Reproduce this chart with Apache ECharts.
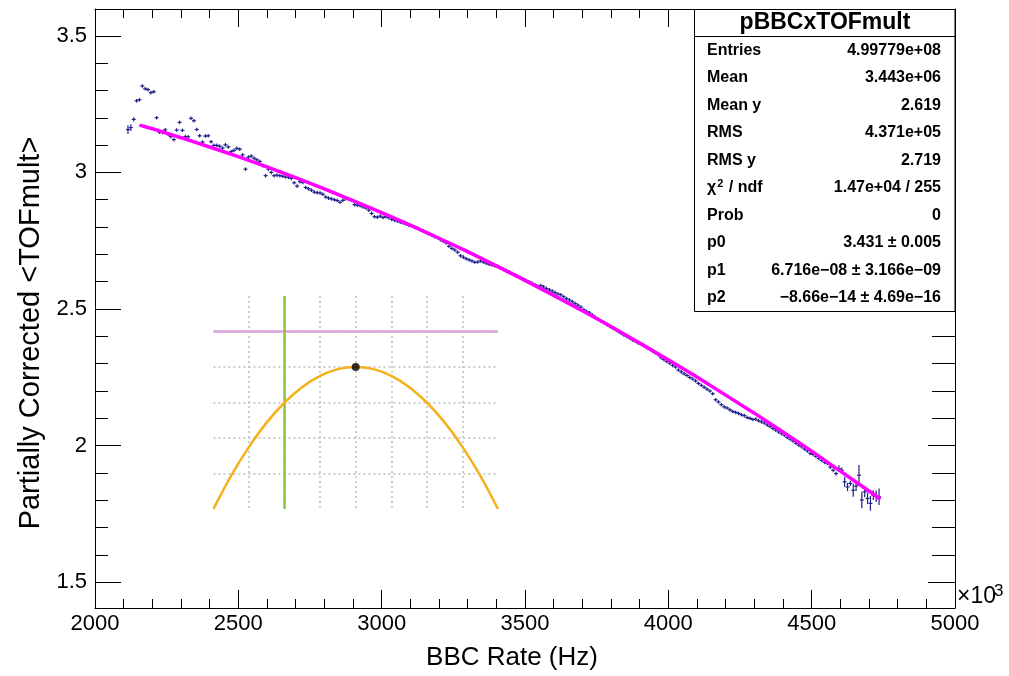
<!DOCTYPE html>
<html><head><meta charset="utf-8">
<script src="https://cdn.jsdelivr.net/npm/echarts@6/dist/echarts.min.js"></script>
<style>html,body{margin:0;padding:0;background:#fff}#c{width:1009px;height:676px}</style>
</head><body><div id="c"></div>
<script>
// ---------------- data ----------------
const BIN_START = 2115;   // first bin centre (BBC rate, x10^3 Hz)
const BIN_WIDTH = 10;
const profileY = [
 3.157,3.164,3.194,3.262,3.266,3.316,3.306,3.303,3.292,
 3.295,3.200,3.147,3.146,3.156,3.139,3.131,3.120,3.155,3.183,
 3.154,3.131,3.130,3.198,3.189,3.157,3.134,3.111,3.133,3.134,
 3.112,3.099,3.099,3.096,3.089,3.101,3.093,3.076,3.081,3.088,
 3.085,3.064,3.012,3.056,3.060,3.052,3.046,3.040,3.025,2.988,
 3.012,3.000,2.988,2.990,2.988,2.986,2.983,2.982,2.978,2.962,
 2.950,2.966,2.963,2.945,2.940,2.935,2.928,2.926,2.925,2.920,
 2.910,2.906,2.903,2.900,2.897,2.891,2.898,2.904,2.902,2.898,
 2.882,2.880,2.878,2.874,2.870,2.862,2.850,2.838,2.836,2.840,
 2.835,2.838,2.834,2.828,2.825,2.822,2.818,2.815,2.811,2.806,
 2.804,2.799,2.796,2.790,2.786,2.780,2.776,2.771,2.765,2.761,
 2.754,2.748,2.742,2.730,2.722,2.716,2.708,2.695,2.690,2.684,
 2.680,2.676,2.671,2.672,2.676,2.672,2.668,2.664,2.661,2.658,
 2.656,2.650,2.645,2.641,2.636,2.630,2.625,2.620,2.615,2.609,
 2.604,2.599,2.594,2.589,2.583,2.586,2.581,2.575,2.570,2.566,
 2.560,2.555,2.552,2.545,2.538,2.533,2.527,2.520,2.514,2.507,
 2.498,2.491,2.486,2.478,2.470,2.463,2.456,2.451,2.444,2.437,
 2.431,2.425,2.418,2.412,2.405,2.400,2.394,2.387,2.382,2.376,
 2.372,2.366,2.359,2.353,2.346,2.340,2.333,2.322,2.315,2.308,
 2.302,2.294,2.288,2.277,2.270,2.263,2.257,2.250,2.244,2.237,
 2.228,2.221,2.214,2.207,2.200,2.190,2.168,2.160,2.150,2.142,
 2.138,2.131,2.125,2.122,2.118,2.113,2.110,2.103,2.100,2.096,
 2.097,2.091,2.087,2.083,2.076,2.070,2.063,2.057,2.050,2.044,
 2.038,2.030,2.024,2.017,2.009,2.002,1.996,1.988,1.981,1.972,
 1.968,1.961,1.953,1.946,1.939,1.935,1.922,1.910,1.898,1.916,
 1.910,1.868,1.849,1.862,1.837,1.852,1.892,1.801,1.831,1.807,
 1.789,1.819,1.815,1.813
];
const profileErr = [
 0.016,0.012,0.008,0.006,0.006,0.006,0.006,0.006,0.006,
 0.005,0.005,0.005,0.005,0.005,0.005,0.005,0.005,0.005,0.005,
 0.004,0.004,0.004,0.004,0.004,0.004,0.004,0.004,0.004,0.004,
 0.004,0.004,0.004,0.004,0.004,0.004,0.004,0.004,0.004,0.004,
 0.004,0.004,0.004,0.004,0.004,0.004,0.004,0.004,0.004,0.004,
 0.003,0.003,0.003,0.003,0.003,0.003,0.003,0.003,0.003,0.003,
 0.003,0.003,0.003,0.003,0.003,0.003,0.003,0.003,0.003,0.003,
 0.003,0.003,0.003,0.003,0.003,0.003,0.003,0.003,0.003,0.003,
 0.003,0.003,0.003,0.003,0.003,0.003,0.003,0.003,0.003,0.003,
 0.003,0.003,0.003,0.003,0.003,0.003,0.003,0.003,0.003,0.003,
 0.003,0.003,0.003,0.003,0.003,0.003,0.003,0.003,0.003,0.003,
 0.003,0.003,0.003,0.003,0.003,0.003,0.003,0.003,0.003,0.003,
 0.003,0.003,0.003,0.003,0.003,0.003,0.003,0.003,0.003,0.003,
 0.003,0.003,0.003,0.003,0.003,0.003,0.003,0.003,0.003,0.003,
 0.003,0.003,0.003,0.003,0.003,0.003,0.003,0.003,0.003,0.003,
 0.003,0.003,0.003,0.003,0.003,0.003,0.003,0.003,0.003,0.003,
 0.003,0.003,0.003,0.003,0.003,0.003,0.003,0.003,0.003,0.003,
 0.003,0.003,0.003,0.003,0.003,0.003,0.003,0.003,0.003,0.003,
 0.003,0.003,0.003,0.003,0.003,0.003,0.003,0.003,0.003,0.003,
 0.003,0.003,0.003,0.003,0.003,0.003,0.003,0.003,0.003,0.003,
 0.003,0.003,0.003,0.003,0.003,0.003,0.003,0.003,0.003,0.003,
 0.003,0.003,0.003,0.003,0.003,0.003,0.003,0.003,0.003,0.003,
 0.003,0.003,0.003,0.003,0.003,0.003,0.003,0.003,0.003,0.003,
 0.004,0.004,0.004,0.004,0.004,0.004,0.004,0.004,0.004,0.004,
 0.005,0.005,0.005,0.005,0.005,0.005,0.007,0.007,0.007,0.012,
 0.010,0.018,0.015,0.010,0.024,0.018,0.037,0.030,0.020,0.021,
 0.027,0.018,0.021,0.030
];
// pol2 fit curve
const fitX = [2155,2200,2300,2400,2500,2600,2700,2800,2900,3000,3100,3200,3300,3400,
              3500,3600,3700,3800,3900,4000,4100,4200,4300,4400,4500,4600,4700,4740];
const fitY = [3.173,3.160,3.127,3.093,3.058,3.020,2.981,2.940,2.897,2.853,2.807,2.759,2.710,2.658,
              2.605,2.550,2.494,2.436,2.376,2.314,2.251,2.185,2.119,2.050,1.980,1.907,1.834,1.804];
// axis ticks
const xMajorInterval = 500;
const yMajorTicks = [1.5, 2, 2.5, 3, 3.5];
const yMinorTicks = [1.5,1.6,1.7,1.8,1.9,2.0,2.1,2.2,2.3,2.4,2.5,2.6,2.7,2.8,2.9,3.0,3.1,3.2,3.3,3.4,3.5];
// stats box
const statsTitle = 'pBBCxTOFmult';
const statsNames = ['Entries','Mean','Mean y','RMS','RMS y','{n|\u03c7}{s|2}{n| / ndf}','Prob','p0','p1','p2'];
const statsValues = ['4.99779e+08','3.443e+06','2.619','4.371e+05','2.719','1.47e+04 / 255','0',
  '3.431 \u00b1 0.005','6.716e\u221208 \u00b1 3.166e\u221209','\u22128.66e\u221214 \u00b1 4.69e\u221216'];
// inset (parabola sketch)
const insetCurveX = [-4,-3.5,-3,-2.5,-2,-1.5,-1,-0.5,0,0.5,1,1.5,2,2.5,3,3.5,4];
const insetCurveY = [0,0.94,1.75,2.44,3,3.44,3.75,3.94,4,3.94,3.75,3.44,3,2.44,1.75,0.94,0];
const insetVertex = [0, 4];
const insetGreenX = -2;
const insetPinkY = 5;

// ---------------- chart ----------------
const F = "'Liberation Sans', Arial, Helvetica, sans-serif";
const PT = '#20208a';
const chart = echarts.init(document.getElementById('c'), null, {renderer: 'canvas'});
const profileData = profileY.map((y, i) => [BIN_START + i * BIN_WIDTH, y, profileErr[i]]);
const fitData = fitX.map((x, i) => [x, fitY[i]]);
const curveData = insetCurveX.map((x, i) => [x, insetCurveY[i]]);

const baseX = {
  gridIndex: 0, type: 'value', min: 2000, max: 5000, interval: xMajorInterval,
  axisLine: {show: true, onZero: false, lineStyle: {color: '#000', width: 1}},
  axisTick: {show: true, inside: true, length: 18, lineStyle: {color: '#000', width: 1}},
  minorTick: {show: true, splitNumber: 5, length: 9, lineStyle: {color: '#000', width: 1}},
  splitLine: {show: false}
};
function yAx(grid, pos, ticks, len, labels, line) {
  return {
    gridIndex: grid, type: 'value', position: pos, min: 1.406, max: 3.598, offset: 0,
    axisLine: {show: line, onZero: false, lineStyle: {color: '#000', width: 1}},
    axisTick: {show: true, inside: true, length: len, customValues: ticks, lineStyle: {color: '#000', width: 1}},
    axisLabel: labels ? {show: true, customValues: ticks, fontSize: 22, fontFamily: F, color: '#000', margin: 8} : {show: false},
    splitLine: {show: false}
  };
}
const insetSplit = {show: true, showMinLine: false, showMaxLine: false,
  lineStyle: {color: '#bdbdbd', width: 1.5, type: [2, 3]}};

const rowY0 = 50.5, rowDY = 27.5;
const graphics = [
  {type: 'text', x: 512, y: 658, style: {text: 'BBC Rate (Hz)', fontSize: 26, fontFamily: F, fill: '#000', textAlign: 'center', textVerticalAlign: 'middle'}},
  {type: 'text', x: 31, y: 333, rotation: Math.PI / 2, style: {text: 'Partially Corrected <TOFmult>', fontSize: 29, fontFamily: F, fill: '#000', textAlign: 'center', textVerticalAlign: 'middle'}},
  {type: 'text', x: 957, y: 608, style: {text: '\u00d710', fontSize: 23, fontFamily: F, fill: '#000', textAlign: 'left', textVerticalAlign: 'bottom'}},
  {type: 'text', x: 994, y: 600, style: {text: '3', fontSize: 17, fontFamily: F, fill: '#000', textAlign: 'left', textVerticalAlign: 'bottom'}},
  {type: 'rect', z: 100, shape: {x: 694.5, y: 9.5, width: 260.5, height: 302}, style: {fill: '#fff', stroke: '#000', lineWidth: 1}},
  {type: 'line', z: 101, shape: {x1: 694.5, y1: 36.5, x2: 955, y2: 36.5}, style: {stroke: '#000', lineWidth: 1}},
  {type: 'text', z: 101, x: 825, y: 23, style: {text: statsTitle, fontSize: 23, fontWeight: 'bold', fontFamily: F, fill: '#000', textAlign: 'center', textVerticalAlign: 'middle'}}
];
statsNames.forEach((n, i) => {
  graphics.push({type: 'text', z: 101, x: 707, y: rowY0 + rowDY * i, style: {
    text: n, fontSize: 16, fontWeight: 'bold', fontFamily: F, fill: '#000', textAlign: 'left', textVerticalAlign: 'middle',
    rich: {n: {fontSize: 16, fontWeight: 'bold', fontFamily: F, lineHeight: 20}, s: {fontSize: 11, fontWeight: 'bold', fontFamily: F, verticalAlign: 'top', lineHeight: 20, padding: [0, 1, 0, 1]}}}});
  graphics.push({type: 'text', z: 101, x: 941, y: rowY0 + rowDY * i, style: {
    text: statsValues[i], fontSize: 16, fontWeight: 'bold', fontFamily: F, fill: '#000', textAlign: 'right', textVerticalAlign: 'middle'}});
});

chart.setOption({
  animation: false,
  backgroundColor: '#fff',
  grid: [
    {left: 95, right: 54, top: 9, bottom: 68, containLabel: false},
    {left: 213.4, top: 296, width: 284.6, height: 213, containLabel: false},
    {left: 95, right: 54, top: 9, bottom: 68, containLabel: false}
  ],
  xAxis: [
    Object.assign({}, baseX, {position: 'bottom', axisLabel: {show: true, fontSize: 22, fontFamily: F, color: '#000', margin: 5, formatter: v => String(v)}}),
    Object.assign({}, baseX, {position: 'top', axisLabel: {show: false}}),
    {gridIndex: 1, type: 'value', min: -4, max: 4, interval: 1, axisLine: {show: false}, axisTick: {show: false}, axisLabel: {show: false}, splitLine: insetSplit},
    {gridIndex: 2, type: 'value', min: 2000, max: 5000, show: false}
  ],
  yAxis: [
    yAx(0, 'left', yMajorTicks, 26, true, true),
    yAx(0, 'right', yMajorTicks, 27, false, true),
    {gridIndex: 1, type: 'value', min: 0, max: 6, interval: 1, axisLine: {show: false}, axisTick: {show: false}, axisLabel: {show: false}, splitLine: insetSplit},
    yAx(2, 'left', yMinorTicks, 13, false, false),
    yAx(2, 'right', yMinorTicks, 23, false, false)
  ],
  series: [
    {
      type: 'custom', xAxisIndex: 0, yAxisIndex: 0, data: profileData, z: 3, clip: true,
      renderItem: function (params, api) {
        const x = api.value(0), y = api.value(1), e = api.value(2);
        const c = api.coord([x, y]);
        const l = api.coord([x - BIN_WIDTH / 2, y]);
        const r = api.coord([x + BIN_WIDTH / 2, y]);
        const t = api.coord([x, y + e]);
        const b = api.coord([x, y - e]);
        const up = Math.max(1.8, c[1] - t[1]), dn = Math.max(1.8, b[1] - c[1]);
        const hw = Math.max(2, (r[0] - l[0]) / 2);
        return {type: 'group', children: [
          {type: 'line', shape: {x1: c[0] - hw, y1: c[1], x2: c[0] + hw, y2: c[1]}, style: {stroke: PT, lineWidth: 1.2}},
          {type: 'line', shape: {x1: c[0], y1: c[1] - up, x2: c[0], y2: c[1] + dn}, style: {stroke: PT, lineWidth: 1.2}}
        ]};
      }
    },
    {type: 'line', xAxisIndex: 0, yAxisIndex: 0, data: fitData, showSymbol: false, symbol: 'none', z: 4,
      lineStyle: {color: '#ff00ff', width: 3.5}},
    {type: 'line', xAxisIndex: 2, yAxisIndex: 2, data: [[-4, insetPinkY], [4, insetPinkY]], symbol: 'none', clip: false, z: 3,
      lineStyle: {color: '#dca2dc', width: 2.5}},
    {type: 'line', xAxisIndex: 2, yAxisIndex: 2, data: [[insetGreenX, 0], [insetGreenX, 6]], symbol: 'none', clip: false, z: 4,
      lineStyle: {color: '#8cc63f', width: 2.5}},
    {type: 'line', xAxisIndex: 2, yAxisIndex: 2, data: curveData, symbol: 'none', smooth: 0.3, clip: false, z: 5,
      lineStyle: {color: '#f5b01c', width: 2.5}},
    {type: 'scatter', xAxisIndex: 2, yAxisIndex: 2, data: [insetVertex], symbol: 'circle', symbolSize: 8, z: 6,
      itemStyle: {color: '#000'}}
  ],
  graphic: graphics
});
</script></body></html>
